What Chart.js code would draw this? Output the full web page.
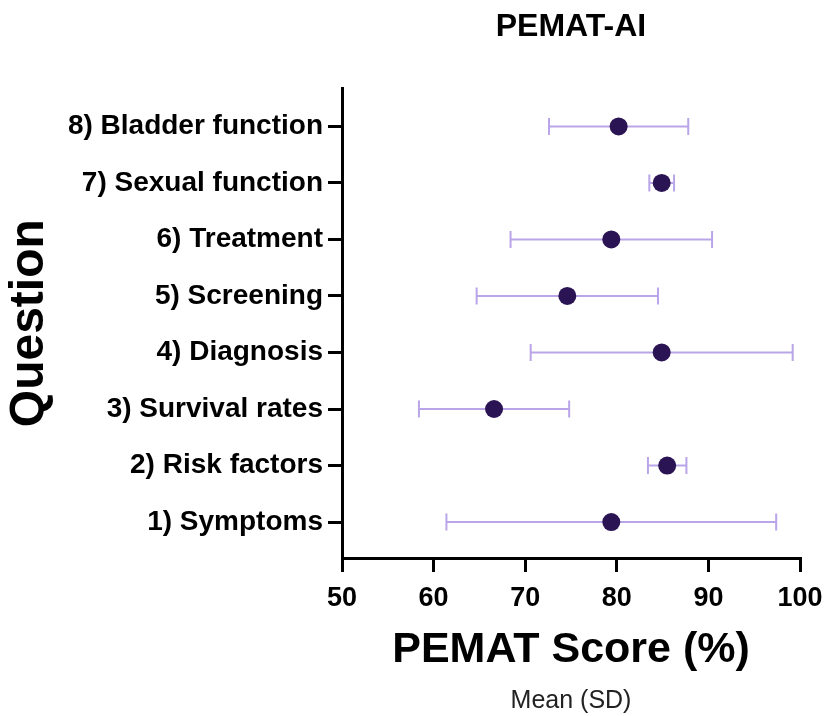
<!DOCTYPE html>
<html>
<head>
<meta charset="utf-8">
<title>PEMAT-AI</title>
<script src="https://cdn.jsdelivr.net/npm/chart.js@4.4.1/dist/chart.umd.min.js"></script>
<style>
  html, body { margin: 0; padding: 0; background: #fff; }
  #wrap { width: 824px; height: 716px; }
</style>
</head>
<body>
<div id="wrap"><canvas id="chart"></canvas></div>
<script>
// Data (mean and SD per question, %)
const questions = [
    '1) Symptoms',
    '2) Risk factors',
    '3) Survival rates',
    '4) Diagnosis',
    '5) Screening',
    '6) Treatment',
    '7) Sexual function',
    '8) Bladder function'
];
const means = [79.4, 85.5, 66.6, 84.9, 74.6, 79.4, 84.9, 80.2];
const sds = [18.0, 2.1, 8.2, 14.3, 9.9, 11.0, 1.35, 7.6];
const xTicks = [50, 60, 70, 80, 90, 100];

const ink = '#000000';
const dotColor = '#2a1454';
const barColor = '#b9a5e8';
const family = "'Liberation Sans', Arial, sans-serif";

// One small line dataset per question: the SD whisker, with caps as rotated line points
const errorSets = questions.map((q, i) => ({
    type: 'line',
    label: q + ' SD',
    data: [
        { x: means[i] - sds[i], y: i + 1 },
        { x: means[i] + sds[i], y: i + 1 }
    ],
    borderColor: barColor,
    borderWidth: 2,
    pointStyle: 'line',
    rotation: 90,
    pointRadius: 8.5,
    pointBorderColor: barColor,
    pointBorderWidth: 2,
    order: 2
}));

const meanSet = {
    type: 'scatter',
    label: 'Mean',
    data: questions.map((q, i) => ({ x: means[i], y: i + 1 })),
    backgroundColor: dotColor,
    borderColor: dotColor,
    borderWidth: 0,
    pointRadius: 9,
    order: 1
};

const axisGrid = {
    drawOnChartArea: false,
    drawTicks: true,
    tickLength: 14,
    tickColor: ink,
    lineWidth: 3
};

new Chart(document.getElementById('chart'), {
    type: 'scatter',
    data: { datasets: [...errorSets, meanSet] },
    options: {
        responsive: true,
        maintainAspectRatio: false,
        animation: false,
        layout: { padding: { left: 0, right: 24, top: 0, bottom: 0 } },
        plugins: {
            legend: { display: false },
            tooltip: { enabled: false },
            title: {
                display: true,
                text: 'PEMAT-AI',
                color: ink,
                fullSize: false,
                font: { family, size: 32, weight: 'bold' },
                padding: { top: 8, bottom: 42 }
            },
            subtitle: {
                display: true,
                position: 'bottom',
                text: 'Mean (SD)',
                color: '#222222',
                fullSize: false,
                font: { family, size: 25, weight: 'normal' },
                padding: { top: 0, bottom: 0 }
            }
        },
        scales: {
            x: {
                type: 'linear',
                min: 50,
                max: 100,
                afterBuildTicks: (scale) => {
                    scale.ticks = xTicks.map(v => ({ value: v }));
                },
                // fixed box so the plot frame lands where the original one is
                afterFit: (scale) => {
                    scale.height = 128;
                    scale.paddingLeft = 0;
                    scale.paddingRight = 0;
                },
                grid: axisGrid,
                border: { display: true, color: ink, width: 3 },
                ticks: {
                    color: ink,
                    maxRotation: 0,
                    padding: 10,
                    font: { family, size: 27, weight: 'bold' }
                },
                title: {
                    display: true,
                    text: 'PEMAT Score (%)',
                    color: ink,
                    font: { family, size: 43, weight: 'bold' },
                    padding: { top: 0, bottom: 10 }
                }
            },
            y: {
                type: 'linear',
                min: 0.364,
                max: 8.672,
                afterBuildTicks: (scale) => {
                    scale.ticks = questions.map((q, i) => ({ value: i + 1 }));
                },
                afterFit: (scale) => { scale.width = 342; },
                grid: axisGrid,
                border: { display: true, color: ink, width: 3 },
                ticks: {
                    color: ink,
                    autoSkip: false,
                    padding: 5,
                    font: { family, size: 28, weight: 'bold' },
                    callback: (value) => questions[Math.round(value) - 1]
                },
                title: {
                    display: true,
                    text: 'Question',
                    color: ink,
                    font: { family, size: 48, weight: 'bold' },
                    padding: { top: 1, bottom: 0 }
                }
            }
        }
    }
});
</script>
</body>
</html>
